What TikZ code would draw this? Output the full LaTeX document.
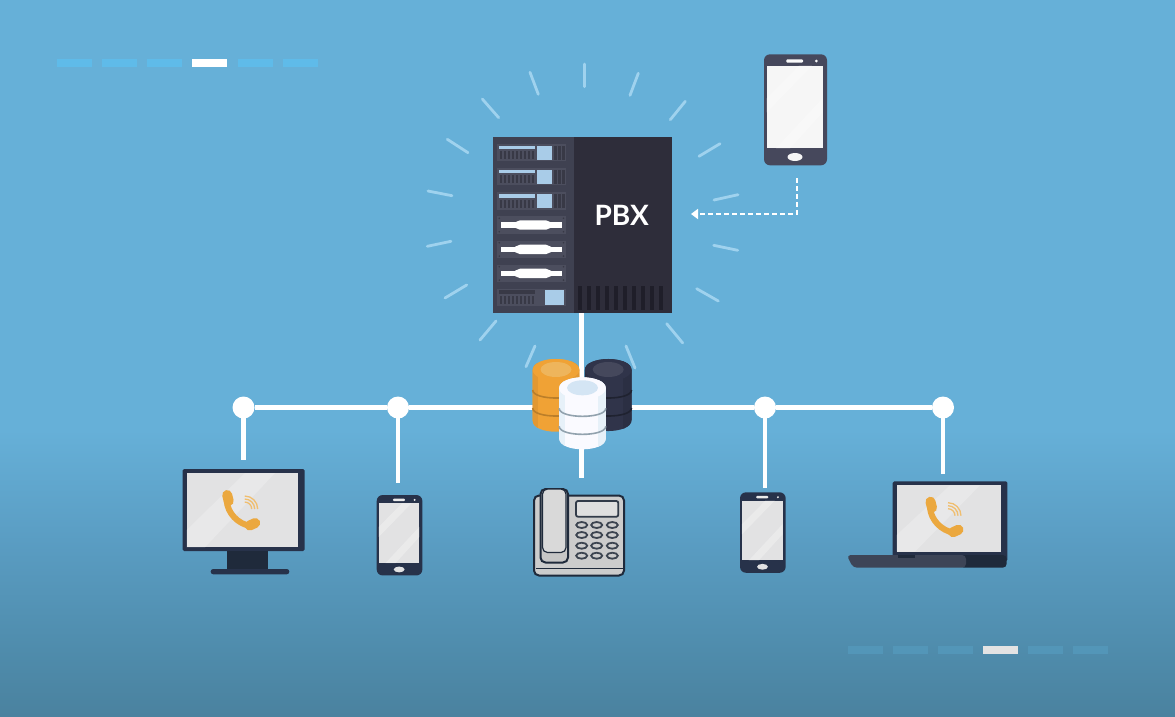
\documentclass[tikz,border=0pt]{standalone}
\usepackage{fontspec}
\setmainfont{Lato}
\usetikzlibrary{arrows.meta}
\definecolor{bgtop}{HTML}{66B0D8}
\definecolor{bgmid}{HTML}{5A9DC3}
\definecolor{bglow}{HTML}{4F8CAC}
\definecolor{bgend}{HTML}{4A829F}
\definecolor{dashA}{HTML}{5FBBE9}
\definecolor{dashB}{HTML}{5396B8}
\definecolor{ray}{HTML}{9FD2EE}
\definecolor{srvL}{HTML}{3F4151}
\definecolor{srvR}{HTML}{2E2D3A}
\definecolor{unit}{HTML}{4C4E5E}
\definecolor{fin}{HTML}{383946}
\definecolor{vent}{HTML}{1F1E29}
\definecolor{lblue}{HTML}{A9CCE8}
\definecolor{navy}{HTML}{27324A}
\definecolor{navyB}{HTML}{1F2A3B}
\definecolor{slate}{HTML}{46485C}
\definecolor{callo}{HTML}{EBA83F}
\definecolor{cylO}{HTML}{F0A235}
\definecolor{scrn}{HTML}{E2E2E3}
\definecolor{cylD}{HTML}{30344A}
\tikzset{
  x=1pt,y=-1pt,
  segA/.style={fill=dashA},
  segB/.style={fill=dashB},
  rayline/.style={draw=ray,line width=2.8pt,line cap=round},
  bus/.style={draw=white,line width=4.2pt},
  junction/.style={circle,fill=white,minimum size=22pt,inner sep=0pt},
  box/.style={inner sep=0pt,outer sep=0pt,anchor=north west},
  pbxtext/.style={text=white,font=\bfseries\fontsize{28}{28}\selectfont,inner sep=0pt},
  dashline/.style={draw=white,line width=2.2pt,dash pattern=on 5pt off 3pt,-{Triangle[length=7pt,width=10pt]}},
}
\newcommand{\rackbase}[1]{\fill[unit] (497.3,#1) rectangle (566,#1+17.4);}
\newcommand{\rackA}[1]{%
  \rackbase{#1}
  \fill[lblue] (499.3,#1+1.7) rectangle (535,#1+5.3);
  \foreach \k in {0,...,8}{\fill[fin] (499.6+\k*4,#1+7.3) rectangle ++(2.8,8);}
  \fill[lblue] (537.3,#1+1.7) rectangle (552,#1+16);
  \foreach \k in {0,1,2}{\fill[fin] (554+\k*4,#1+2) rectangle ++(2.6,14);}
}
\newcommand{\rackB}[1]{%
  \rackbase{#1}
  \fill[white] (501,#1+6) rectangle (561.7,#1+11.4);
  \fill[white] (515,#1+6) -- (520,#1+4) -- (546,#1+4) -- (551,#1+6) -- (551,#1+11.4) -- (546,#1+13.4) -- (520,#1+13.4) -- (515,#1+11.4) -- cycle;
  \foreach \a/\b in {499.3/2,499.3/15.4,563.5/2,563.5/15.4}{\fill[fin] (\a,#1+\b) circle (0.9);}
}
\newcommand{\phoneshape}[3]{% name, body colour, screen colour
  \node[box,name=#1,fill=#2,rounded corners=6pt,minimum width=63pt,minimum height=111pt,transform shape] at (0,0) {};
  \fill[#3] (2.7,11.4) rectangle (58.7,94);
  \fill[white,opacity=.28] (2.7,44) -- (35,11.4) -- (48,11.4) -- (2.7,58) -- cycle;
  \fill[white,opacity=.28] (12,94) -- (58.7,44) -- (58.7,58) -- (26,94) -- cycle;
  \fill[#3!70!white,rounded corners=1pt] (22.3,5) rectangle (39,8.4);
  \fill[#3!70!white] (52.3,6.7) circle (1.5);
  \fill[#3] (31,102.7) ellipse (7.5 and 4);
}
\newcommand{\callicon}[1]{% centred handset
  \begin{scope}[shift={#1}]
    \draw[callo,line width=6pt,line cap=round] (-15,-9) .. controls (-14,3) and (-4,14) .. (9,16);
    \draw[callo,line width=10pt,line cap=round] (-14.5,-15) -- (-13,-9);
    \draw[callo,line width=10pt,line cap=round] (8,15.5) -- (13.5,13);
    \foreach \r in {7,10,13}{\draw[callo!75!white,line width=1.3pt] (3+\r,-1) arc[start angle=0,end angle=-90,radius=\r];}
  \end{scope}
}
\newcommand{\cyl}[7]{% cx,top,height,base,shade,inner,band
  \begin{scope}[shift={(#1,#2)}]
    \begin{scope}
      \clip (-23.3,11) .. controls (-23.3,-3.7) and (23.3,-3.7) .. (23.3,11) -- (23.3,#3-11) .. controls (23.3,#3+3.7) and (-23.3,#3+3.7) .. (-23.3,#3-11) -- cycle;
      \fill[#4] (-24,-2) rectangle (24,#3+2);
      \fill[#5] (-24,-2) rectangle (-18,#3+2);
      \fill[#5] (15,-2) rectangle (24,#3+2);
    \end{scope}
    \foreach \d in {31,49}{\draw[#7,line width=1.6pt] (-23.3,\d) .. controls (-23.3,\d+10.7) and (23.3,\d+10.7) .. (23.3,\d);}
    \fill[#4] (0,11) ellipse (23.3 and 11);
    \fill[#6] (0,10.5) ellipse (15.5 and 7.5);
  \end{scope}
}
\begin{document}
\begin{tikzpicture}
\useasboundingbox (0,0) rectangle (1175,716);
% background
\fill[bgtop] (0,0) rectangle (1175,431);
\fill[top color=bgtop,bottom color=bgmid] (0,430) rectangle (1175,540);
\fill[top color=bgmid,bottom color=bglow] (0,539) rectangle (1175,650);
\fill[top color=bglow,bottom color=bgend] (0,649) rectangle (1175,716);
% progress dashes
\foreach \a in {57,102,147,238,283}{\fill[segA] (\a,59) rectangle ++(35,8);}
\fill[white] (192,59) rectangle ++(35,8);
\foreach \a in {848,893,938,1028,1073}{\fill[segB] (\a,646) rectangle ++(35,8);}
\fill[white!78!gray] (983,646) rectangle ++(35,8);
% rays
\foreach \a/\b/\c/\d in {584.7/64/584.7/86.7,530/72.3/538.3/94.3,638.3/73.3/630/95.3,482.3/99/498.7/117.7,685.3/101.3/670.3/119.7,447.3/139.3/468/152.7,720/143.7/699/156.3,428/191/452/195.7,738/194.7/714/200,427.3/246.3/451/241.3,713.7/245.3/737.7/250.3,445/298/466.7/285,696.7/288.7/718.3/301,480/340/496/321,666.7/323.7/682.7/343,526/366.7/535/346,635/368/626/346}
  {\draw[rayline] (\a,\b) -- (\c,\d);}
% phone at the top
\begin{scope}[shift={(764,54.3)}]
  \phoneshape{topphone}{slate}{white!93!gray}
\end{scope}
% server
\node[box,name=server,fill=srvR,minimum width=179.3pt,minimum height=176.6pt] at (492.7,136.7) {};
\fill[srvL] (492.7,136.7) rectangle (574,313.3);
\rackA{144}\rackA{168}\rackA{192.3}
\rackB{216.3}\rackB{240.7}\rackB{264.7}
\rackbase{288.7}
\fill[fin] (499.3,290.3) rectangle (535,294);
\foreach \k in {0,...,8}{\fill[fin] (499.6+\k*4,296) rectangle ++(2.8,8);}
\fill[lblue] (544.7,290.3) rectangle (564.3,305);
\foreach \k in {0,...,9}{\fill[vent] (577.5+\k*9,286) rectangle ++(4.8,24);}
\node[pbxtext,name=pbx] at (621.7,215.7) {PBX};
% dashed link phone to PBX
\coordinate (dashstart) at (796.7,178);
\coordinate (dashend) at (691,214);
\draw[dashline] (dashstart) |- (dashend);
% junctions and bus
\node[junction,name=j1] at (243.5,407.5) {};
\node[junction,name=j2] at (398,407.5) {};
\node[junction,name=j3] at (765,407.5) {};
\node[junction,name=j4] at (943,407.5) {};
\coordinate (e1) at (243.5,459.5);
\coordinate (e2) at (398,482.5);
\coordinate (e3) at (765,487.5);
\coordinate (e4) at (943,473.5);
\coordinate (servbot) at (581.5,313.3);
\coordinate (deskend) at (581.5,477.5);
\draw[bus] (j1) -- (j2);
\draw[bus] (j2) -- (j3);
\draw[bus] (j3) -- (j4);
\draw[bus] (j1.center) -- (e1);
\draw[bus] (j2.center) -- (e2);
\draw[bus] (j3.center) -- (e3);
\draw[bus] (j4.center) -- (e4);
\draw[bus] (servbot) -- (deskend);
% databases
\cyl{556}{359}{72.7}{cylO}{cylO!94!black}{callo!85!white}{cylO!78!black}
\cyl{608.2}{359}{72}{cylD}{cylD!90!black}{cylD!90!white}{cylD!65!black}
\cyl{582.5}{377.3}{72}{white!98!blue}{lblue!28!white}{lblue!50!white}{gray!55!lblue}
% monitor
\node[box,name=monitor,fill=navy,rounded corners=1.5pt,minimum width=122pt,minimum height=82pt] at (182.7,469) {};
\fill[scrn] (186.7,473) rectangle (298,547.3);
\fill[white,opacity=.22] (186.7,530) -- (245,473) -- (275,473) -- (205,547.3) -- (186.7,547.3) -- cycle;
\fill[navyB] (226.7,551) rectangle (267.7,570);
\fill[navy,rounded corners=2.5pt] (210.7,569) rectangle (289.3,574.3);
\callicon{(241.7,510)}
% small phones
\begin{scope}[shift={(376.7,495)},scale=.725]
  \phoneshape{phoneL}{navy}{scrn}
\end{scope}
\begin{scope}[shift={(740,492.3)},scale=.725]
  \phoneshape{phoneR}{navy}{scrn}
\end{scope}
% desk telephone
\node[box,name=desk,draw=navyB,line width=2pt,fill=gray!40!white,rounded corners=5pt,minimum width=90pt,minimum height=80pt] at (534,495.5) {};
\draw[navyB,line width=1.2pt] (536,568.3) -- (624,568.3);
\draw[navyB,line width=2pt,fill=gray!45!white,rounded corners=5pt] (540.5,489) rectangle (568,562.5);
\draw[navyB,line width=1.2pt,fill=gray!30!white,rounded corners=5pt] (542.5,489) rectangle (566,552.5);
\draw[navyB!80!gray,line width=1.8pt,fill=gray!25!white,rounded corners=2pt] (576,501) rectangle (618.3,516.7);
\foreach \kx in {581.7,596.7,612.3}{\foreach \ky in {525,535,545.7,555.7}{\draw[navyB!70!gray,line width=1.8pt,fill=gray!40!white] (\kx,\ky) ellipse (5.5 and 3);}}
% laptop
\node[box,name=laptop,fill=navy,rounded corners=1.5pt,minimum width=114.6pt,minimum height=80pt] at (892.7,481.3) {};
\fill[scrn] (896.7,485.3) rectangle (1001,551.7);
\fill[white,opacity=.22] (896.7,535) -- (950,485.3) -- (980,485.3) -- (915,551.7) -- (896.7,551.7) -- cycle;
\fill[navyB,rounded corners=4pt] (960,555) rectangle (1006.7,567.7);
\fill[navy!75!gray,rounded corners=4pt] (846.7,555) -- (966,555) -- (966,567.7) -- (853,567.7) -- cycle;
\fill[navyB] (898,555) rectangle (915,558);
\callicon{(945,516.7)}
\end{tikzpicture}
\end{document}
